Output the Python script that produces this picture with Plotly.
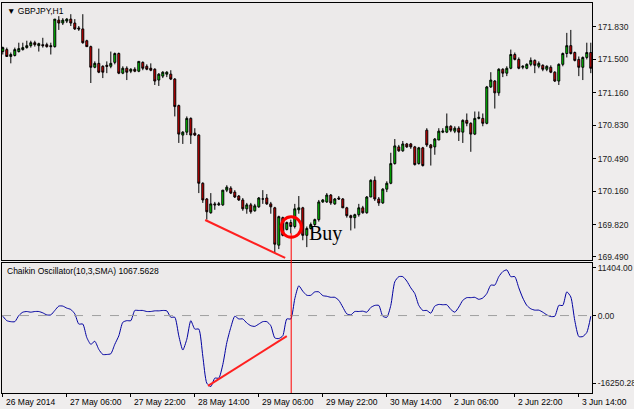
import plotly.graph_objects as go

# OHLC per H1 bar (GBPJPY)
opens = [171.58,171.60,171.53,171.54,171.58,171.60,171.62,171.64,171.67,171.64,171.65,171.65,171.64,171.63,171.90,171.87,171.89,171.91,171.87,171.82,
171.81,171.69,171.63,171.42,171.46,171.43,171.44,171.43,171.47,171.56,171.36,171.41,171.38,171.40,171.38,171.47,171.43,171.41,171.40,171.29,
171.33,171.35,171.35,171.30,171.03,170.73,170.76,170.90,170.75,170.73,170.24,170.08,169.94,170.03,170.02,170.02,170.17,170.19,170.15,170.11,
170.07,169.98,170.02,169.96,170.00,170.08,170.09,170.03,169.99,169.61,169.89,169.77,169.84,169.80,169.97,169.99,169.71,169.78,169.82,169.87,
170.05,170.05,170.12,170.03,170.09,170.08,169.99,169.91,169.89,169.92,169.99,169.94,170.10,170.27,170.08,170.04,170.18,170.24,170.44,170.61,
170.57,170.64,170.64,170.61,170.44,170.60,170.78,170.63,170.61,170.68,170.76,170.76,170.82,170.77,170.80,170.76,170.88,170.85,170.74,170.90,
170.90,170.85,171.22,171.28,171.16,171.40,171.36,171.41,171.55,171.50,171.42,171.41,171.45,171.49,171.43,171.44,171.40,171.42,171.37,171.28,
171.45,171.56,171.64,171.57,171.50,171.42,171.52,171.57]
closes = [171.62,171.53,171.55,171.60,171.61,171.62,171.64,171.67,171.65,171.66,171.64,171.63,171.63,171.91,171.87,171.90,171.91,171.87,171.81,171.81,
171.67,171.63,171.42,171.46,171.37,171.37,171.43,171.46,171.56,171.36,171.41,171.37,171.40,171.38,171.48,171.41,171.40,171.39,171.28,171.35,
171.37,171.37,171.30,171.02,170.74,170.76,170.90,170.73,170.73,170.24,170.07,169.95,170.03,170.02,170.03,170.17,170.20,170.14,170.10,170.07,
169.98,170.02,169.95,170.01,170.09,170.08,170.03,170.00,169.62,169.90,169.71,169.84,169.80,169.98,169.99,169.71,169.78,169.82,169.87,170.05,
170.07,170.12,170.04,170.08,170.08,169.99,169.91,169.89,169.92,169.99,169.94,170.10,170.27,170.08,170.04,170.18,170.24,170.44,170.62,170.57,
170.64,170.61,170.61,170.43,170.60,170.42,170.63,170.60,170.69,170.77,170.77,170.82,170.78,170.80,170.76,170.88,170.85,170.74,170.90,170.91,
170.85,171.22,171.29,171.16,171.40,171.36,171.41,171.55,171.50,171.41,171.43,171.45,171.49,171.44,171.46,171.40,171.43,171.37,171.28,171.45,
171.56,171.64,171.56,171.49,171.42,171.52,171.57,171.41]
highs = [171.63,171.62,171.57,171.62,171.67,171.67,171.69,171.69,171.69,171.67,171.72,171.67,171.67,171.91,171.94,171.92,171.92,171.96,171.91,171.84,
171.96,171.70,171.64,171.48,171.61,171.44,171.48,171.58,171.57,171.57,171.43,171.43,171.41,171.42,171.48,171.48,171.45,171.46,171.41,171.36,
171.38,171.38,171.39,171.31,171.04,170.77,170.92,170.91,170.80,170.74,170.25,170.09,170.14,170.05,170.05,170.17,170.22,170.21,170.17,170.12,
170.09,170.04,170.04,170.03,170.10,170.17,170.13,170.05,170.00,169.91,169.90,169.85,169.87,170.03,170.11,170.00,169.80,169.84,169.88,170.07,
170.08,170.14,170.13,170.09,170.11,170.09,170.00,169.92,169.93,170.03,170.01,170.11,170.28,170.31,170.10,170.19,170.26,170.55,170.69,170.63,
170.67,170.65,170.65,170.62,170.61,170.61,170.80,170.64,170.70,170.80,170.80,170.95,170.83,170.82,170.82,170.89,170.95,170.86,170.97,170.97,
170.95,171.23,171.37,171.29,171.41,171.41,171.43,171.60,171.57,171.52,171.44,171.46,171.52,171.50,171.48,171.45,171.44,171.44,171.38,171.46,
171.57,171.77,171.80,171.58,171.53,171.53,171.67,171.67]
lows = [171.55,171.53,171.46,171.53,171.57,171.59,171.61,171.62,171.63,171.58,171.62,171.62,171.55,171.62,171.80,171.85,171.87,171.84,171.80,171.79,
171.66,171.63,171.26,171.41,171.36,171.31,171.36,171.41,171.45,171.35,171.35,171.29,171.36,171.37,171.37,171.39,171.39,171.38,171.24,171.23,
171.31,171.32,171.29,170.92,170.65,170.64,170.73,170.64,170.72,170.14,170.04,169.87,169.93,169.97,170.01,170.01,170.15,170.13,170.09,170.06,
169.96,169.93,169.93,169.95,169.99,170.03,170.02,169.93,169.53,169.57,169.70,169.76,169.73,169.78,169.93,169.66,169.59,169.77,169.80,169.85,
170.04,170.04,170.02,170.02,170.07,169.99,169.89,169.76,169.78,169.90,169.93,169.93,170.10,170.06,170.01,170.03,170.15,170.23,170.43,170.56,
170.56,170.60,170.59,170.42,170.43,170.41,170.61,170.42,170.53,170.68,170.75,170.75,170.76,170.75,170.67,170.65,170.82,170.56,170.73,170.89,
170.82,170.84,171.21,171.00,171.13,171.32,171.33,171.40,171.49,171.40,171.40,171.40,171.43,171.36,171.41,171.38,171.38,171.36,171.27,171.24,
171.43,171.52,171.55,171.48,171.33,171.29,171.50,171.36]

# Chaikin Oscillator (10,3,SMA) per bar
chaikin = [-160,-1220,-1460,-1460,0,810,970,810,970,970,650,160,160,1220,2270,2270,1780,1460,410,-2030,
-2030,-5270,-6890,-6160,-8100,-9320,-9320,-9150,-6890,-4860,-1620,-1220,-1220,1220,1220,1220,970,970,1130,1130,
1220,1130,-410,-410,-4860,-8260,-5670,-1220,-3240,-3240,-9720,-16200,-17010,-14990,-14990,-11750,-6480,-2840,-160,-810,
-810,-1780,-2430,-2590,-2030,-1460,-1460,-2430,-5350,-5510,-4860,-810,-810,4050,7130,5830,4860,4860,5670,5670,
4780,4620,4370,4370,3650,2030,410,160,970,970,1050,810,1940,2430,2430,-160,-410,2430,8100,9320,
9320,8260,6640,5270,2430,1220,1220,570,2270,2670,2590,2590,1460,810,2030,3650,4290,4290,4370,3890,
4210,5270,7290,7290,9320,10530,10940,9320,9320,6640,4210,2430,1620,1300,1300,810,160,-240,-160,2430,
2430,5670,4460,-1220,-5020,-5020,-4050,-160]

ticktext_x = ["26 May 2014", "27 May 06:00", "27 May 22:00", "28 May 14:00", "29 May 06:00",
              "29 May 22:00", "30 May 14:00", "2 Jun 06:00", "2 Jun 22:00", "3 Jun 14:00"]
tick_idx = [0, 16, 32, 48, 64, 80, 96, 112, 128, 144]
price_ticks = [171.830, 171.500, 171.160, 170.830, 170.490, 170.160, 169.820, 169.490]
osc_ticks = [11404.0, 0.0, -16250.28]

idx = list(range(len(opens)))
FONT = "Liberation Sans"

fig = go.Figure()
fig.add_trace(go.Candlestick(
    x=idx, open=opens, high=highs, low=lows, close=closes,
    increasing=dict(line=dict(color="black", width=1), fillcolor="#00e000"),
    decreasing=dict(line=dict(color="black", width=1), fillcolor="#e80000"),
    whiskerwidth=0, xaxis="x", yaxis="y", showlegend=False, hoverinfo="skip"))
fig.add_trace(go.Scatter(x=idx, y=chaikin, mode="lines", line=dict(color="#0000a0", width=1, shape="spline", smoothing=0.6),
                         xaxis="x2", yaxis="y2", showlegend=False, hoverinfo="skip"))

xr = [-0.2, 147.3]
ax_common = dict(showline=True, linecolor="black", linewidth=1, mirror=True, showgrid=False, zeroline=False,
                 automargin=False)
fig.update_layout(
    width=634, height=409, margin=dict(l=2, r=42, t=3, b=16, autoexpand=False),
    paper_bgcolor="#efeded", plot_bgcolor="#eceaea",
    font=dict(family=FONT, size=8, color="black"),
    xaxis=dict(domain=[0, 1], range=xr, anchor="y", showticklabels=False, ticks="",
               rangeslider=dict(visible=False), **ax_common),
    yaxis=dict(domain=[0.341, 1], range=[169.459, 172.074], side="right", tickvals=price_ticks,
               ticktext=[f"{v:.3f}" for v in price_ticks], ticks="outside", ticklen=3, tickcolor="black",
               tickfont=dict(size=8.5, family=FONT, color="#222"), **ax_common),
    xaxis2=dict(domain=[0, 1], range=xr, anchor="y2", tickvals=tick_idx, ticks="outside", ticklen=3,
                tickcolor="black", showticklabels=False, **ax_common),
    yaxis2=dict(domain=[0, 0.333], range=[-18550, 12560], side="right", tickvals=osc_ticks,
                ticktext=["11404.00", "0.00", "-16250.28"], ticks="outside", ticklen=3, tickcolor="black",
                tickfont=dict(size=8.5, family=FONT, color="#222"), **ax_common),
)

shapes = [
    dict(type="line", xref="x2", yref="y2", x0=xr[0], x1=xr[1], y0=0, y1=0,
         line=dict(color="#a0a0a0", width=1, dash="dash")),
    dict(type="line", xref="x", yref="y", x0=50.6, y0=169.866, x1=70.6, y1=169.48,
         line=dict(color="#ff2020", width=2)),
    dict(type="line", xref="x2", yref="y2", x0=51.3, y0=-16850, x1=71.0, y1=-4940,
         line=dict(color="#ff2020", width=2)),
    dict(type="line", xref="x", yref="paper", x0=72.1, x1=72.1, y0=0, y1=0.41,
         line=dict(color="#ff0000", width=1)),
    dict(type="circle", xref="x", yref="y", x0=69.6, x1=74.6, y0=169.69, y1=169.90,
         line=dict(color="#ff0000", width=3)),
]
fig.update_layout(shapes=shapes)

anns = [
    dict(text="\u25bc GBPJPY,H1", xref="paper", yref="paper", x=0.005, y=0.998, xanchor="left", yanchor="top",
         showarrow=False, font=dict(size=8.5, family=FONT)),
    dict(text="Chaikin Oscillator(10,3,SMA) 1067.5628", xref="paper", yref="paper", x=0.005, y=0.33,
         xanchor="left", yanchor="top", showarrow=False, font=dict(size=8.5, family=FONT)),
    dict(text="Buy", xref="x", yref="y", x=76.0, y=169.73, xanchor="left", yanchor="middle", showarrow=False,
         font=dict(size=20, family="Liberation Serif", color="black")),
]
for t, i in zip(ticktext_x, tick_idx):
    anns.append(dict(text=t, xref="x2", yref="paper", x=i + 0.2, y=0.0, yshift=-2, xanchor="left", yanchor="top",
                     showarrow=False, font=dict(size=8.5, family=FONT)))
fig.update_layout(annotations=anns)

fig.write_html("out.html", config={"displayModeBar": False},
               post_script="document.body.style.margin='0px';")
